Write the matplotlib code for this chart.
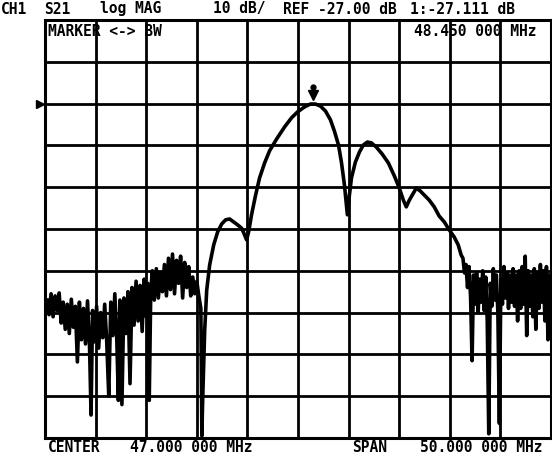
import matplotlib
matplotlib.use("Agg")
import matplotlib.pyplot as plt

# network analyzer sweep: frequency (MHz), magnitude (dB)
noise_left = [
    (22.2, -74.0), (22.4, -77.5), (22.6, -72.5), (22.8, -78.0), (23.0, -73.0),
    (23.2, -76.5), (23.4, -72.3), (23.6, -79.5), (23.8, -74.5), (24.0, -81.0),
    (24.2, -75.0), (24.4, -82.0), (24.6, -73.8), (24.8, -80.5), (25.0, -75.5),
    (25.2, -88.8), (25.4, -74.5), (25.6, -83.5), (25.8, -76.0), (26.0, -84.5),
    (26.2, -74.2), (26.4, -85.0), (26.55, -101.5), (26.7, -76.5), (26.9, -84.0),
    (27.1, -75.5), (27.3, -85.5), (27.5, -77.0), (27.7, -83.0), (27.9, -75.0),
    (28.1, -84.0), (28.3, -97.0), (28.5, -74.5), (28.7, -82.5), (28.9, -72.5),
    (29.1, -84.0), (29.25, -98.0), (29.4, -74.0), (29.6, -99.0), (29.8, -73.5),
    (30.0, -82.0), (30.2, -72.0), (30.4, -94.0), (30.6, -71.0), (30.8, -80.0),
    (31.0, -69.5), (31.2, -79.0), (31.4, -70.5), (31.6, -81.5), (31.8, -69.0),
    (32.0, -78.0), (32.15, -70.0), (32.3, -98.0), (32.45, -72.0), (32.6, -67.0),
    (32.8, -74.0), (33.0, -66.5), (33.2, -73.5), (33.4, -67.5), (33.6, -72.0),
    (33.8, -65.5), (34.0, -73.0), (34.2, -64.0), (34.4, -71.5), (34.6, -63.0),
    (34.8, -72.5), (35.0, -64.5), (35.2, -70.0), (35.4, -63.5), (35.6, -73.5),
    (35.8, -65.0), (36.0, -71.0), (36.2, -66.0), (36.4, -73.0), (36.6, -68.5),
    (36.8, -72.5), (37.0, -69.5), (37.2, -73.0), (37.4, -76.0),
]

passband = [
    (37.5, -106.5), (37.58, -97.9), (37.78, -81.2), (37.98, -71.6), (38.27, -65.6),
    (38.67, -60.8), (39.06, -57.7), (39.46, -55.8), (39.85, -54.8), (40.24, -54.6),
    (40.64, -55.3), (41.03, -56.0), (41.43, -56.8), (41.72, -58.4), (41.92, -59.6),
    (42.12, -57.7), (42.41, -53.6), (42.81, -48.9), (43.20, -44.8), (43.70, -41.2),
    (44.19, -38.3), (44.88, -35.5), (45.67, -32.6), (46.36, -30.4), (46.95, -29.0),
    (47.64, -27.8), (48.23, -27.1), (48.73, -27.1), (49.22, -27.6), (49.72, -28.8),
    (50.21, -30.9), (50.60, -33.6), (51.00, -36.9), (51.29, -41.0), (51.59, -46.5),
    (51.78, -51.3), (51.88, -53.6), (52.08, -48.9), (52.28, -44.8), (52.67, -41.0),
    (53.07, -38.6), (53.46, -36.9), (53.85, -36.2), (54.25, -36.4), (54.74, -37.4),
    (55.33, -39.1), (55.93, -41.2), (56.52, -44.3), (57.01, -47.2), (57.41, -50.1),
    (57.70, -51.7), (58.00, -50.1), (58.29, -48.9), (58.69, -47.2), (59.08, -47.9),
    (59.48, -48.9), (59.97, -50.1), (60.46, -51.7), (60.95, -53.9), (61.45, -55.3),
    (61.94, -57.2), (62.43, -58.9), (62.83, -60.8), (63.12, -63.2),
]

noise_right = [
    (63.3, -64.0), (63.45, -67.5), (63.6, -65.5), (63.75, -71.0), (63.9, -66.0),
    (64.05, -73.0), (64.2, -88.5), (64.35, -68.0), (64.5, -75.0), (64.65, -67.5),
    (64.8, -77.0), (64.95, -69.0), (65.1, -74.5), (65.25, -67.0), (65.4, -76.5),
    (65.55, -68.5), (65.7, -79.0), (65.85, -106.0), (66.0, -70.0), (66.15, -75.5),
    (66.3, -66.5), (66.45, -74.0), (66.6, -68.0), (66.75, -77.0), (66.9, -103.5),
    (67.05, -69.0), (67.2, -75.0), (67.35, -66.0), (67.5, -73.5), (67.65, -67.5),
    (67.8, -76.0), (67.95, -68.0), (68.1, -74.5), (68.25, -66.5), (68.4, -75.5),
    (68.55, -68.0), (68.7, -79.0), (68.85, -67.0), (69.0, -76.0), (69.15, -66.0),
    (69.3, -75.0), (69.45, -63.5), (69.6, -82.5), (69.75, -67.0), (69.9, -75.5),
    (70.05, -68.0), (70.2, -78.0), (70.35, -66.5), (70.5, -81.0), (70.65, -67.5),
    (70.8, -76.0), (70.95, -65.5), (71.1, -74.5), (71.25, -67.0), (71.4, -79.0),
    (71.55, -66.0), (71.7, -83.5), (71.85, -68.0), (72.0, -75.0),
]

center_mhz = 47.0
span_mhz = 50.0
ref_db = -27.0
scale_db = 10.0
marker_mhz = 48.45
marker_db = -27.111

trace = noise_left + passband + noise_right
freq = [p[0] for p in trace]
mag = [p[1] for p in trace]

fig = plt.figure(figsize=(5.52, 4.58), dpi=100)
ax = fig.add_axes([45 / 552, 1 - 438 / 458, 506 / 552, 418 / 458])

start = center_mhz - span_mhz / 2
ax.set_xlim(start, start + span_mhz)
ax.set_ylim(ref_db - 8 * scale_db, ref_db + 2 * scale_db)
ax.set_xticks([start + i * span_mhz / 10 for i in range(11)])
ax.set_yticks([ref_db + (i - 8) * scale_db for i in range(11)])
ax.tick_params(length=0, labelbottom=False, labelleft=False)
ax.grid(True, color="black", linewidth=2.0)
for s in ax.spines.values():
    s.set_linewidth(2.2)

ax.plot(freq, mag, color="black", linewidth=2.6, solid_joinstyle="round")

# marker 1 and reference position arrow
ax.plot([marker_mhz], [marker_db + 2.2], marker="v", markersize=7, color="black")
ax.plot([marker_mhz], [marker_db + 4.2], marker="o", markersize=3.5, color="black")
ax.plot([start - 0.45], [ref_db], marker=">", markersize=6, color="black", clip_on=False)

mono = dict(family="DejaVu Sans Mono", fontweight="bold", fontsize=10.5, color="black", va="center")


def put(x, y, s, **kw):
    fig.text(x / 552, 1 - y / 458, s, **mono, **kw)


put(1, 9, "CH1")
put(44, 9, "S21")
put(100, 9, "log MAG")
put(213, 9, "10 dB/")
put(283, 9, "REF -27.00 dB")
put(410, 9, "1:-27.111 dB")
put(48, 31, "MARKER <-> BW")
put(414, 31, "48.450 000 MHz")
put(48, 448, "CENTER")
put(130, 448, "47.000 000 MHz")
put(352, 448, "SPAN")
put(420, 448, "50.000 000 MHz")

fig.savefig("out.png", dpi=100, facecolor="white")
